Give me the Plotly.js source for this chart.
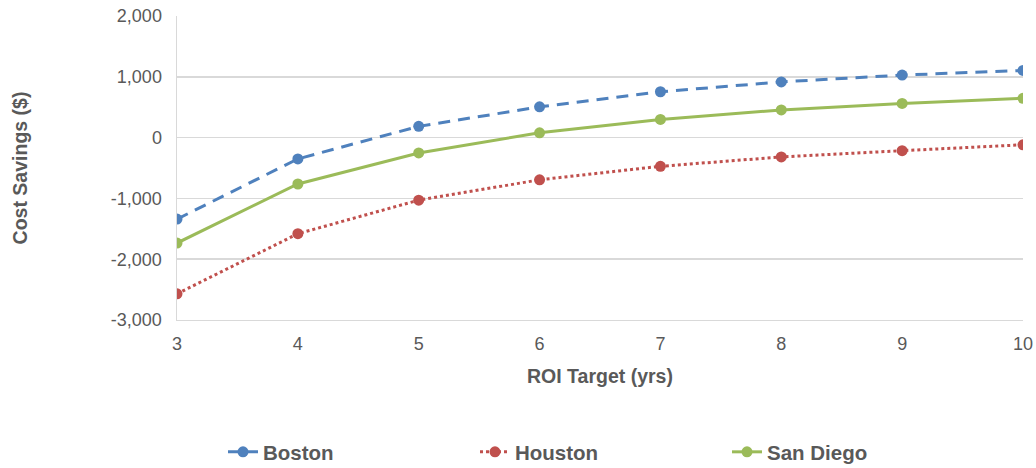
<!DOCTYPE html>
<html>
<head>
<meta charset="utf-8">
<script src="https://cdn.plot.ly/plotly-3.0.1.min.js"></script>
<style>
  html, body { margin: 0; padding: 0; background: #fff; }
  #chart { width: 1036px; height: 468px; }
</style>
</head>
<body>
<div id="chart"></div>
<script>
// ROI target in years
const roiYears = [3, 4, 5, 6, 7, 8, 9, 10];

// Cost savings ($) per city
const boston = [-1340, -350, 185, 506, 754, 916, 1028, 1104];
const houston = [-2569, -1581, -1029, -694, -472, -318, -215, -118];
const sanDiego = [-1734, -763, -253, 79, 298, 455, 562, 646];

const yTicks = [-3000, -2000, -1000, 0, 1000, 2000];
const yTickText = ['-3,000', '-2,000', '-1,000', '0', '1,000', '2,000'];

const textColor = '#595959';
const font = 'Liberation Sans, Arial, sans-serif';

const traces = [
  {
    name: 'Boston', x: roiYears, y: boston, mode: 'lines+markers',
    line: { color: '#4F81BD', width: 3, dash: '12px,8px' },
    marker: { color: '#4F81BD', size: 11 }
  },
  {
    name: 'Houston', x: roiYears, y: houston, mode: 'lines+markers',
    line: { color: '#C0504D', width: 3, dash: '3px,3px' },
    marker: { color: '#C0504D', size: 11 }
  },
  {
    name: 'San Diego', x: roiYears, y: sanDiego, mode: 'lines+markers',
    line: { color: '#9BBB59', width: 3 },
    marker: { color: '#9BBB59', size: 11 }
  }
];

const layout = {
  width: 1036, height: 468,
  margin: { l: 177, r: 13, t: 16, b: 148, autoexpand: false },
  paper_bgcolor: '#fff', plot_bgcolor: '#fff',
  font: { family: font, color: textColor, size: 18 },
  showlegend: true,
  legend: {
    orientation: 'h', xref: 'container', yref: 'container',
    x: 223 / 1036, xanchor: 'left', y: 16 / 468, yanchor: 'middle',
    font: { family: font, size: 20.5, color: textColor, weight: 'bold' },
    entrywidth: 207, entrywidthmode: 'pixels', tracegroupgap: 0
  },
  xaxis: {
    range: [3, 10], tickvals: roiYears, ticktext: roiYears.map(String),
    showgrid: false, zeroline: false, showline: true, linecolor: '#d9d9d9', linewidth: 1,
    ticks: '', ticklabelstandoff: 7,
    tickfont: { size: 18, color: textColor },
    title: { text: 'ROI Target (yrs)', standoff: 16, font: { size: 19.5, color: textColor, weight: 'bold' } }
  },
  yaxis: {
    range: [-3000, 2000], tickvals: yTicks, ticktext: yTickText,
    showgrid: true, gridcolor: '#d9d9d9', gridwidth: 1.5,
    zeroline: false, showline: true, linecolor: '#d9d9d9', linewidth: 1.5,
    ticks: '', ticklabelstandoff: 10,
    tickfont: { size: 18, color: textColor },
    title: { text: 'Cost Savings ($)', standoff: 78, font: { size: 19.5, color: textColor, weight: 'bold' } }
  }
};

Plotly.newPlot('chart', traces, layout, { displayModeBar: false, staticPlot: true });
</script>
</body>
</html>
